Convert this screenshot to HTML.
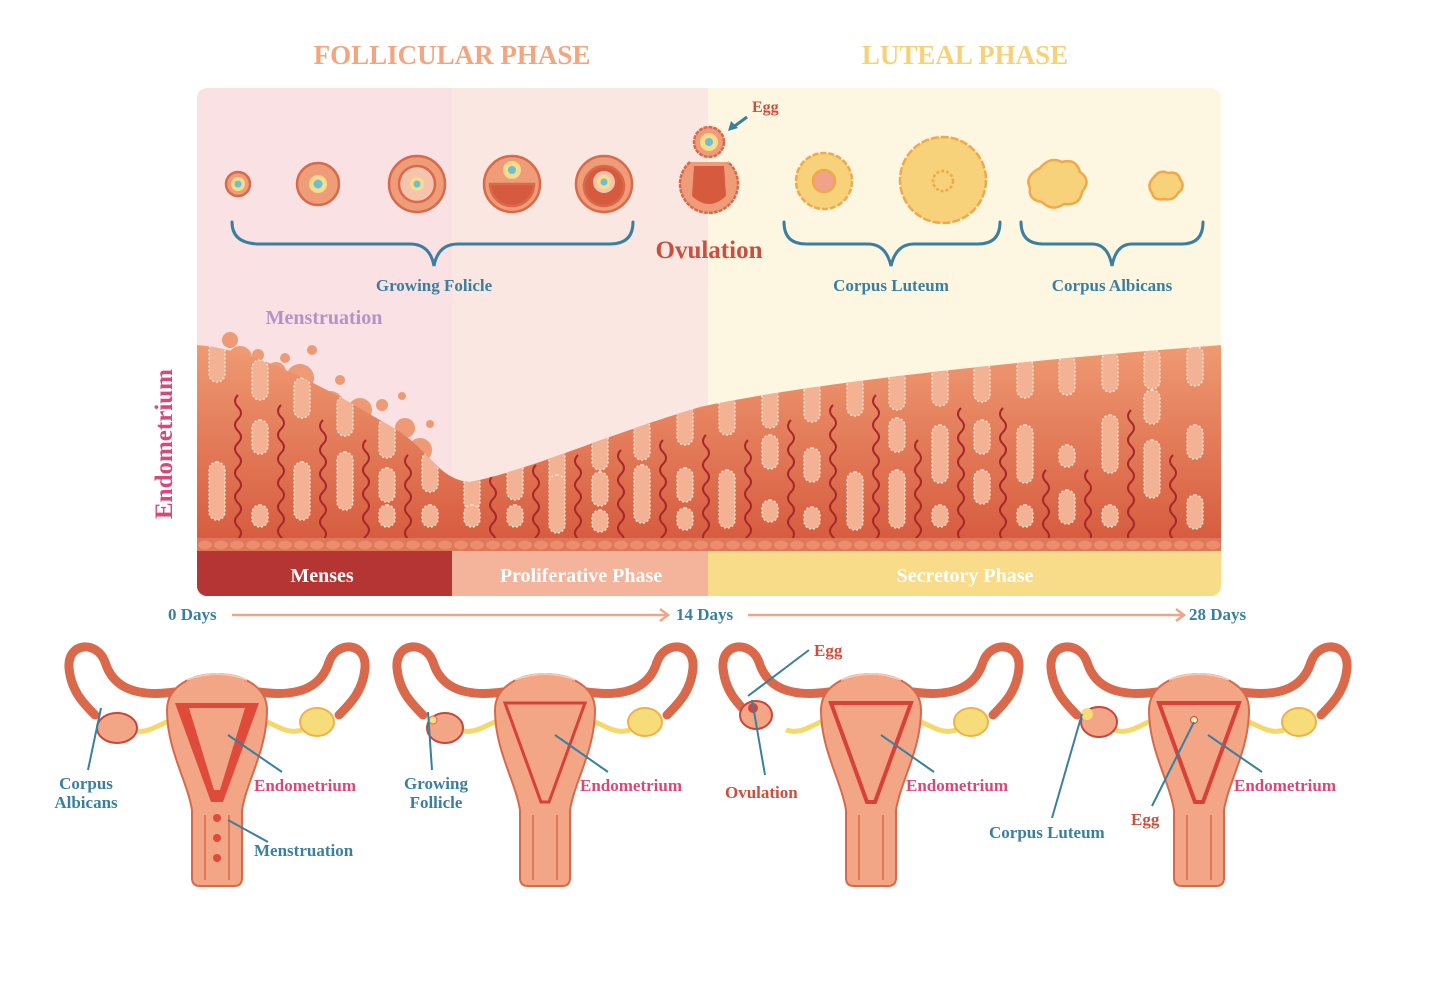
<!DOCTYPE html>
<html><head><meta charset="utf-8">
<style>
html,body{margin:0;padding:0;background:#fff;}
svg{display:block;}
text{font-family:"Liberation Serif",serif;font-weight:bold;}
</style></head>
<body>
<svg width="1437" height="983" viewBox="0 0 1437 983" xmlns="http://www.w3.org/2000/svg">
<defs>
  <clipPath id="panel"><rect x="197" y="88" width="1024" height="508" rx="10"/></clipPath>
  <linearGradient id="endo" x1="0" y1="0" x2="0" y2="1">
    <stop offset="0" stop-color="#ef9a72"/><stop offset="1" stop-color="#d65a3e"/>
  </linearGradient>
  <clipPath id="endoClip"><path d="M197,545 L197,345 C260,350 330,390 400,432 C430,452 440,480 470,482 C530,470 600,437 700,407 C800,385 1000,362 1222,345 L1222,545 Z"/></clipPath>
  <rect id="gt" x="-8" y="0" width="16" height="40" rx="8" fill="#f3b293" stroke="#fbe0cf" stroke-width="1.5" stroke-dasharray="2 2"/>
  <rect id="gl" x="-8" y="0" width="16" height="58" rx="8" fill="#f3b293" stroke="#fbe0cf" stroke-width="1.5" stroke-dasharray="2 2"/>
  <rect id="gm" x="-8" y="0" width="16" height="34" rx="8" fill="#f3b293" stroke="#fbe0cf" stroke-width="1.5" stroke-dasharray="2 2"/>
  <rect id="gs" x="-8" y="0" width="16" height="22" rx="8" fill="#f3b293" stroke="#fbe0cf" stroke-width="1.5" stroke-dasharray="2 2"/>
  <path id="v" d="M0,0 q-6,6 0,12 q6,6 0,12 q-6,6 0,12 q6,6 0,12 q-6,6 0,12 q6,6 0,12 q-6,6 0,12 q6,6 0,12 q-6,6 0,12 q6,6 0,12 q-6,6 0,12 q6,6 0,12" fill="none" stroke="#a8282a" stroke-width="2"/>
  <pattern id="scal" x="197" y="538" width="16" height="13" patternUnits="userSpaceOnUse">
    <rect width="16" height="13" fill="#e0765a"/><ellipse cx="8" cy="7" rx="7" ry="4.5" fill="#eb8e6c"/>
  </pattern>
  <g id="uterus">
    <path d="M-42,52 C-85,58 -105,45 -112,22 C-120,0 -150,2 -148,28 C-146,50 -135,62 -122,75" fill="none" stroke="#d9694a" stroke-width="9" stroke-linecap="round"/>
    <path d="M42,52 C85,58 105,45 112,22 C120,0 150,2 148,28 C146,50 135,62 122,75" fill="none" stroke="#d9694a" stroke-width="9" stroke-linecap="round"/>
    <path d="M-85,90 C-70,95 -60,85 -45,80" fill="none" stroke="#f5d86a" stroke-width="5"/>
    <path d="M85,90 C70,95 60,85 45,80" fill="none" stroke="#f5d86a" stroke-width="5"/>
    <path d="M-50,70 C-50,22 50,22 50,70 C50,110 30,140 25,170 L25,238 Q25,246 17,246 L-17,246 Q-25,246 -25,238 L-25,170 C-30,140 -50,110 -50,70 Z" fill="#f2a685" stroke="#d9694a" stroke-width="2"/>
    <path d="M-30,40 Q0,28 30,40" fill="none" stroke="#f8c9b2" stroke-width="2"/>
    <path d="M-25,170 L-25,240 M25,170 L25,240 M-12,175 L-12,240 M12,175 L12,240" stroke="#d9694a" stroke-width="1.5"/>
  </g>
</defs>

<text x="452" y="64" font-size="27" fill="#f3a57f" text-anchor="middle">FOLLICULAR PHASE</text>
<text x="965" y="64" font-size="27" fill="#f5d27a" text-anchor="middle">LUTEAL PHASE</text>

<g clip-path="url(#panel)">
  <rect x="197" y="88" width="256" height="510" fill="#f9e1e4"/>
  <rect x="452" y="88" width="257" height="510" fill="#fbe7e1"/>
  <rect x="708" y="88" width="514" height="510" fill="#fdf6e1"/>
  <g fill="#ee9a74">
    <circle cx="230" cy="340" r="8"/><circle cx="258" cy="355" r="6"/><circle cx="285" cy="358" r="5"/><circle cx="312" cy="350" r="5"/>
    <circle cx="340" cy="380" r="5"/><circle cx="300" cy="378" r="14"/><circle cx="360" cy="410" r="12"/><circle cx="382" cy="405" r="6"/>
    <circle cx="405" cy="428" r="10"/><circle cx="402" cy="396" r="4"/><circle cx="430" cy="424" r="4"/><circle cx="240" cy="358" r="12"/>
    <circle cx="276" cy="372" r="10"/><circle cx="330" cy="405" r="14"/><circle cx="420" cy="450" r="12"/><circle cx="380" cy="435" r="10"/>
  </g>
  <path fill="url(#endo)" d="M197,545 L197,345 C260,350 330,390 400,432 C430,452 440,480 470,482 C530,470 600,437 700,407 C800,385 1000,362 1222,345 L1222,545 Z"/>
  <g clip-path="url(#endoClip)">
    <use href="#gt" x="217" y="342"/><use href="#gl" x="217" y="462"/><use href="#v" x="238" y="395"/>
    <use href="#gt" x="260" y="360"/><use href="#gm" x="260" y="420"/><use href="#gs" x="260" y="505"/><use href="#v" x="281" y="405"/>
    <use href="#gt" x="302" y="378"/><use href="#gl" x="302" y="462"/><use href="#v" x="323" y="420"/>
    <use href="#gt" x="345" y="396"/><use href="#gl" x="345" y="452"/><use href="#v" x="366" y="440"/>
    <use href="#gt" x="387" y="418"/><use href="#gm" x="387" y="468"/><use href="#gs" x="387" y="505"/><use href="#v" x="408" y="455"/>
    <use href="#gt" x="430" y="452"/><use href="#gs" x="430" y="505"/>
    <use href="#gt" x="472" y="470"/><use href="#gs" x="472" y="505"/><use href="#v" x="493" y="475"/>
    <use href="#gt" x="515" y="460"/><use href="#gs" x="515" y="505"/><use href="#v" x="536" y="465"/>
    <use href="#gt" x="557" y="448"/><use href="#gl" x="557" y="475"/><use href="#v" x="578" y="455"/>
    <use href="#gt" x="600" y="430"/><use href="#gm" x="600" y="472"/><use href="#gs" x="600" y="510"/><use href="#v" x="621" y="450"/>
    <use href="#gt" x="642" y="420"/><use href="#gl" x="642" y="465"/><use href="#v" x="663" y="440"/>
    <use href="#gt" x="685" y="405"/><use href="#gm" x="685" y="468"/><use href="#gs" x="685" y="508"/><use href="#v" x="706" y="435"/>
    <use href="#gt" x="727" y="395"/><use href="#gl" x="727" y="470"/><use href="#v" x="748" y="440"/>
    <use href="#gt" x="770" y="388"/><use href="#gm" x="770" y="435"/><use href="#gs" x="770" y="500"/><use href="#v" x="791" y="420"/>
    <use href="#gt" x="812" y="382"/><use href="#gm" x="812" y="448"/><use href="#gs" x="812" y="507"/><use href="#v" x="833" y="405"/>
    <use href="#gt" x="855" y="376"/><use href="#gl" x="855" y="472"/><use href="#v" x="876" y="395"/>
    <use href="#gt" x="897" y="370"/><use href="#gm" x="897" y="418"/><use href="#gl" x="897" y="470"/><use href="#v" x="918" y="440"/>
    <use href="#gt" x="940" y="366"/><use href="#gl" x="940" y="425"/><use href="#gs" x="940" y="505"/><use href="#v" x="961" y="408"/>
    <use href="#gt" x="982" y="362"/><use href="#gm" x="982" y="420"/><use href="#gm" x="982" y="470"/><use href="#v" x="1003" y="408"/>
    <use href="#gt" x="1025" y="358"/><use href="#gl" x="1025" y="425"/><use href="#gs" x="1025" y="505"/><use href="#v" x="1046" y="470"/>
    <use href="#gt" x="1067" y="355"/><use href="#gs" x="1067" y="445"/><use href="#gm" x="1067" y="490"/><use href="#v" x="1088" y="470"/>
    <use href="#gt" x="1110" y="352"/><use href="#gl" x="1110" y="415"/><use href="#gs" x="1110" y="505"/><use href="#v" x="1131" y="410"/>
    <use href="#gt" x="1152" y="349"/><use href="#gm" x="1152" y="390"/><use href="#gl" x="1152" y="440"/><use href="#v" x="1173" y="455"/>
    <use href="#gt" x="1195" y="346"/><use href="#gm" x="1195" y="425"/><use href="#gm" x="1195" y="495"/>
  </g>
  <rect x="197" y="538" width="1024" height="13" fill="url(#scal)"/>
  <rect x="197" y="551" width="256" height="46" fill="#b53434"/>
  <rect x="452" y="551" width="257" height="46" fill="#f3b49b"/>
  <rect x="708" y="551" width="514" height="46" fill="#f8dc8a"/>
</g>
<text x="322" y="582" font-size="20" fill="#fff" text-anchor="middle">Menses</text>
<text x="581" y="582" font-size="20" fill="#fff" text-anchor="middle">Proliferative Phase</text>
<text x="965" y="582" font-size="20" fill="#fff" text-anchor="middle">Secretory Phase</text>

<text x="324" y="324" font-size="20" fill="#b592c8" text-anchor="middle">Menstruation</text>
<text transform="translate(172,444) rotate(-90)" font-size="25" fill="#d8497a" text-anchor="middle">Endometrium</text>

<g stroke="#d9694a" stroke-width="2.5">
  <circle cx="238" cy="184" r="12" fill="#ef9c78"/><circle cx="238" cy="184" r="7" fill="#f6dc8c" stroke="none"/><circle cx="238" cy="184" r="3.5" fill="#6cc0cf" stroke="none"/>
  <circle cx="318" cy="184" r="21" fill="#ef9c78"/><circle cx="318" cy="184" r="9" fill="#f6dc8c" stroke="none"/><circle cx="318" cy="184" r="4.5" fill="#6cc0cf" stroke="none"/>
  <circle cx="417" cy="184" r="28" fill="#ef9c78"/><circle cx="417" cy="184" r="18" fill="#f6c4ad"/><circle cx="417" cy="184" r="7" fill="#f6dc8c" stroke="none"/><circle cx="417" cy="184" r="3.5" fill="#6cc0cf" stroke="none"/>
  <circle cx="512" cy="184" r="28" fill="#ef9c78"/><path d="M490,184 A22,22 0 0 0 534,184 Z" fill="#d65a3e"/><circle cx="512" cy="170" r="9" fill="#f6dc8c" stroke="none"/><circle cx="512" cy="170" r="4" fill="#6cc0cf" stroke="none"/>
  <circle cx="604" cy="184" r="28" fill="#ef9c78"/><circle cx="604" cy="186" r="20" fill="#d65a3e"/><circle cx="604" cy="182" r="11" fill="#f6c4ad" stroke="none"/><circle cx="604" cy="182" r="7" fill="#f6dc8c" stroke="none"/><circle cx="604" cy="182" r="3.5" fill="#6cc0cf" stroke="none"/>
  <path d="M690,162 A29,29 0 1 0 728,162" fill="#ef9c78" stroke-dasharray="4 1"/><path d="M694,166 L724,166 L726,196 Q709,212 692,196 Z" fill="#d65a3e" stroke="none"/>
  <circle cx="709" cy="142" r="15" fill="#ef9c78" stroke-dasharray="4 1"/><circle cx="709" cy="142" r="9" fill="#f6dc8c" stroke="none"/><circle cx="709" cy="142" r="4" fill="#6cc0cf" stroke="none"/>
</g>
<g stroke="#f0a84a" stroke-width="2.5" fill="#f7d27a">
  <circle cx="824" cy="181" r="28" stroke-dasharray="6 2"/><circle cx="824" cy="181" r="11" fill="#f2a28a"/>
  <circle cx="943" cy="180" r="43" stroke-dasharray="8 2"/><circle cx="943" cy="181" r="10" fill="#f7d27a" stroke-dasharray="3 2"/>
  <path d="M1040,168 q10,-12 22,-6 q14,-4 18,10 q12,8 2,20 q-2,14 -18,12 q-12,8 -22,-2 q-14,-2 -12,-14 q-6,-12 10,-20Z"/>
  <path d="M1154,177 q6,-8 14,-4 q10,-2 12,6 q6,8 -2,14 q-4,8 -14,6 q-10,2 -12,-6 q-6,-8 2,-16Z"/>
</g>
<path d="M747,117 L732,128" stroke="#3a7fa0" stroke-width="3"/><path d="M728,131 L731,121 L738,128 Z" fill="#3a7fa0"/>
<text x="752" y="112" font-size="16" fill="#c9503e">Egg</text>
<text x="709" y="258" font-size="25" fill="#c9503e" text-anchor="middle">Ovulation</text>

<g fill="none" stroke="#3a7fa0" stroke-width="3" stroke-linecap="round">
  <path d="M232,222 Q232,244 260,244 L410,244 Q430,244 434,266 Q438,244 458,244 L610,244 Q633,244 633,222"/>
  <path d="M784,222 Q784,244 806,244 L868,244 Q886,244 891,266 Q896,244 914,244 L978,244 Q1000,244 1000,222"/>
  <path d="M1021,222 Q1021,244 1043,244 L1092,244 Q1108,244 1112,266 Q1116,244 1132,244 L1182,244 Q1203,244 1203,222"/>
</g>
<text x="434" y="291" font-size="17" fill="#3a7fa0" text-anchor="middle">Growing Folicle</text>
<text x="891" y="291" font-size="17" fill="#3a7fa0" text-anchor="middle">Corpus Luteum</text>
<text x="1112" y="291" font-size="17" fill="#3a7fa0" text-anchor="middle">Corpus Albicans</text>

<text x="168" y="620" font-size="17" fill="#3a7fa0">0 Days</text>
<text x="676" y="620" font-size="17" fill="#3a7fa0">14 Days</text>
<text x="1189" y="620" font-size="17" fill="#3a7fa0">28 Days</text>
<g stroke="#f0a58a" stroke-width="2.5" fill="none">
  <path d="M232,615 L668,615 M660,609 L668,615 L660,621"/>
  <path d="M748,615 L1184,615 M1176,609 L1184,615 L1176,621"/>
</g>

<g transform="translate(217,640)"><use href="#uterus"/>
  <ellipse cx="-100" cy="88" rx="20" ry="15" fill="#f2a685" stroke="#c9443a" stroke-width="2"/>
  <ellipse cx="100" cy="82" rx="17" ry="14" fill="#f7dc7a" stroke="#f0b04a" stroke-width="2"/>
  <path d="M-42,63 L42,63 L6,162 L-6,162 Z" fill="#e04a3a"/><path d="M-28,68 L28,68 L3,150 L-3,150 Z" fill="#f2a685"/>
  <circle cx="0" cy="178" r="4" fill="#e04a3a"/><circle cx="0" cy="198" r="4" fill="#e04a3a"/><circle cx="0" cy="218" r="4" fill="#e04a3a"/>
</g>
<g transform="translate(545,640)"><use href="#uterus"/>
  <ellipse cx="-100" cy="88" rx="18" ry="15" fill="#f2a685" stroke="#c9443a" stroke-width="2"/><circle cx="-112" cy="80" r="4" fill="#f6dc8c" stroke="#d9694a"/>
  <ellipse cx="100" cy="82" rx="17" ry="14" fill="#f7dc7a" stroke="#f0b04a" stroke-width="2"/>
  <path d="M-40,63 L40,63 L4,162 L-4,162 Z" fill="none" stroke="#d8403a" stroke-width="3"/>
</g>
<g transform="translate(871,640)"><use href="#uterus"/>
  <ellipse cx="-115" cy="75" rx="16" ry="14" fill="#f2a685" stroke="#c9443a" stroke-width="2"/><circle cx="-118" cy="68" r="5" fill="#d8403a"/>
  <ellipse cx="100" cy="82" rx="17" ry="14" fill="#f7dc7a" stroke="#f0b04a" stroke-width="2"/>
  <path d="M-40,63 L40,63 L4,162 L-4,162 Z" fill="none" stroke="#d8403a" stroke-width="4"/>
</g>
<g transform="translate(1199,640)"><use href="#uterus"/>
  <ellipse cx="-100" cy="82" rx="18" ry="15" fill="#f2a685" stroke="#c9443a" stroke-width="2"/><circle cx="-112" cy="74" r="6" fill="#f7dc7a"/>
  <ellipse cx="100" cy="82" rx="17" ry="14" fill="#f7dc7a" stroke="#f0b04a" stroke-width="2"/>
  <path d="M-40,63 L40,63 L4,162 L-4,162 Z" fill="none" stroke="#d8403a" stroke-width="4"/>
  <circle cx="-5" cy="80" r="3.5" fill="#fff3c0" stroke="#d8403a"/>
</g>
<g stroke="#3a7fa0" stroke-width="2">
  <path d="M101,708 L88,770"/><path d="M228,735 L282,772"/><path d="M228,820 L268,842"/>
  <path d="M428,712 L432,770"/><path d="M555,735 L608,772"/>
  <path d="M809,650 L748,696"/><path d="M752,700 L765,775"/><path d="M881,735 L934,772"/>
  <path d="M1082,714 L1052,818"/><path d="M1194,722 L1152,806"/><path d="M1208,735 L1262,772"/>
</g>
<g font-size="17">
<text x="86" y="789" fill="#3a7fa0" text-anchor="middle">Corpus</text>
<text x="86" y="808" fill="#3a7fa0" text-anchor="middle">Albicans</text>
<text x="254" y="791" fill="#d8497a">Endometrium</text>
<text x="254" y="856" fill="#3a7fa0">Menstruation</text>
<text x="436" y="789" fill="#3a7fa0" text-anchor="middle">Growing</text>
<text x="436" y="808" fill="#3a7fa0" text-anchor="middle">Follicle</text>
<text x="580" y="791" fill="#d8497a">Endometrium</text>
<text x="814" y="656" fill="#c9503e">Egg</text>
<text x="725" y="798" fill="#c9503e">Ovulation</text>
<text x="906" y="791" fill="#d8497a">Endometrium</text>
<text x="989" y="838" fill="#3a7fa0">Corpus Luteum</text>
<text x="1131" y="825" fill="#c9503e">Egg</text>
<text x="1234" y="791" fill="#d8497a">Endometrium</text>
</g>
</svg>
</body></html>
